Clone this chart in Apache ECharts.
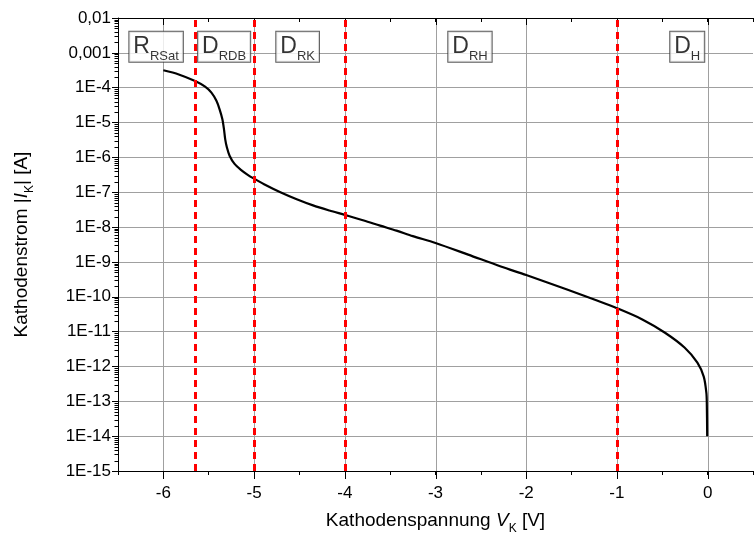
<!DOCTYPE html>
<html>
<head>
<meta charset="utf-8">
<script src="https://cdn.jsdelivr.net/npm/echarts@6/dist/echarts.min.js"></script>
<style>
  html, body { margin: 0; padding: 0; background: #fff; }
  #chart { width: 756px; height: 540px; }
</style>
</head>
<body>
<div id="chart"></div>
<script>
// Cathode characteristic: |I_K| over V_K
const voltage = [-6.0, -5.83, -5.65, -5.54, -5.47, -5.415, -5.38, -5.35, -5.332, -5.318, -5.30,
  -5.27, -5.215, -5.145, -5.07, -5.0, -4.89, -4.71, -4.53, -4.35, -4.17, -4.0,
  -3.79, -3.61, -3.43, -3.25, -3.0, -2.64, -2.28, -2.0, -1.55, -1.22, -1.0,
  -0.72, -0.47, -0.255, -0.113, -0.043, -0.014, -0.009, -0.005];
const current = [3.16e-4, 2.4e-4, 1.55e-4, 1.07e-4, 7.2e-5, 4.2e-5, 2.4e-5, 1.26e-5, 6.5e-6, 3.3e-6, 1.95e-6,
  1.12e-6, 6.5e-7, 4.4e-7, 3.16e-7, 2.45e-7, 1.7e-7, 1.0e-7, 6.3e-8, 4.2e-8, 3.0e-8, 2.24e-8,
  1.55e-8, 1.1e-8, 7.9e-9, 5.5e-9, 3.5e-9, 1.62e-9, 7.4e-10, 4.2e-10, 1.62e-10, 7.8e-11, 4.7e-11,
  2.24e-11, 9.3e-12, 3.5e-12, 1.29e-12, 5.1e-13, 1.74e-13, 8e-14, 1e-14];

// Region boundaries (red dashed) and region names
const boundaryVoltages = [-5.65, -5, -4, -1];
const regionMain = ['R', 'D', 'D', 'D', 'D'];
const regionSub = ['RSat', 'RDB', 'RK', 'RH', 'H'];
const regionVoltages = [-6.08, -5.33, -4.52, -2.62, -0.225];
const regionCurrent = 1.5e-3;

// Axes
const xMin = -6.5, xMax = 0.5;
const yMinExp = -15, yMaxExp = -2;
const xMajorTicks = [-6, -5, -4, -3, -2, -1, 0];
const yTickLabels = ['1E-15', '1E-14', '1E-13', '1E-12', '1E-11', '1E-10', '1E-9', '1E-8',
  '1E-7', '1E-6', '1E-5', '1E-4', '0,001', '0,01'];

const FONT = '"Liberation Sans", Arial, Helvetica, sans-serif';
const GRID = '#a0a0a0';

const curveData = voltage.map((v, i) => [v, current[i]]);
const regionData = regionVoltages.map((v, i) => ({
  value: [v, regionCurrent],
  label: { formatter: '{m|' + regionMain[i] + '}{s|' + regionSub[i] + '}' }
}));

// log-spaced minor ticks for the current axis
const yMinorTicks = [];
for (let e = yMinExp; e < yMaxExp; e++) {
  for (let m = 2; m <= 9; m++) yMinorTicks.push(m * Math.pow(10, e));
}

const crisp = v => Math.round(v) + 0.5;

function drawDecorations(params, api) {
  const yLo = Math.pow(10, yMinExp), yHi = Math.pow(10, yMaxExp);
  const children = [];
  xMajorTicks.forEach(v => {
    const b = api.coord([v, yLo]);
    const t = api.coord([v, yHi]);
    const x = crisp(b[0]);
    children.push({ type: 'line', shape: { x1: x, y1: b[1], x2: x, y2: t[1] },
      style: { stroke: GRID, lineWidth: 1 } });
    children.push({ type: 'line', shape: { x1: x, y1: b[1], x2: x, y2: b[1] + 8 },
      style: { stroke: '#000', lineWidth: 1 } });
    children.push({ type: 'line', shape: { x1: x, y1: t[1], x2: x, y2: t[1] + 7 },
      style: { stroke: '#000', lineWidth: 1 } });
  });
  yMinorTicks.forEach(v => {
    const p = api.coord([xMin, v]);
    const y = crisp(p[1]);
    const x = crisp(p[0]);
    children.push({ type: 'line', shape: { x1: x - 4, y1: y, x2: x, y2: y },
      style: { stroke: '#000', lineWidth: 1 } });
  });
  return { type: 'group', children };
}

const chart = echarts.init(document.getElementById('chart'), null, { renderer: 'canvas' });

const axisNameRich = {
  n: { fontSize: 19, fontFamily: FONT, color: '#000', lineHeight: 20, verticalAlign: 'top' },
  i: { fontSize: 19, fontFamily: FONT, color: '#000', fontStyle: 'italic', lineHeight: 20, verticalAlign: 'top' },
  s: { fontSize: 12, fontFamily: FONT, color: '#000', lineHeight: 12, padding: [16, 0, 0, 0] }
};

chart.setOption({
  animation: false,
  backgroundColor: '#fff',
  textStyle: { fontFamily: FONT },
  grid: { left: 118, right: -8, top: 18, bottom: 69, containLabel: false },
  xAxis: [{
    type: 'value', position: 'bottom', min: xMin, max: xMax, interval: 0.5,
    axisLine: { show: true, onZero: false, lineStyle: { color: '#000', width: 1 } },
    axisTick: { show: true, inside: false, length: 4, lineStyle: { color: '#000' } },
    axisLabel: {
      show: true, margin: 14, color: '#000', fontSize: 17, fontFamily: FONT,
      formatter: v => Number.isInteger(Math.round(v * 1000) / 1000) ? String(Math.round(v)) : ''
    },
    splitLine: { show: false },
    name: '{n|Kathodenspannung }{i|V}{s|K}{n| [V]}',
    nameLocation: 'middle', nameGap: 38,
    nameTextStyle: { rich: axisNameRich }
  }, {
    type: 'value', position: 'top', min: xMin, max: xMax, interval: 0.5,
    axisLine: { show: true, onZero: false, lineStyle: { color: '#000', width: 1 } },
    axisTick: { show: true, inside: true, length: 4, lineStyle: { color: '#000' } },
    axisLabel: { show: false },
    splitLine: { show: false }
  }],
  yAxis: [{
    type: 'log', logBase: 10, min: Math.pow(10, yMinExp), max: Math.pow(10, yMaxExp), interval: 1,
    axisLine: { show: true, onZero: false, lineStyle: { color: '#000', width: 1 } },
    axisTick: { show: true, inside: false, length: 6, lineStyle: { color: '#000', width: 1 } },
    axisLabel: {
      show: true, margin: 7, color: '#000', fontSize: 17, fontFamily: FONT,
      formatter: v => {
        const idx = Math.round(Math.log10(v)) - yMinExp;
        return yTickLabels[idx] || '';
      }
    },
    splitLine: { show: true, lineStyle: { color: GRID, width: 1 } },
    name: '{n|Kathodenstrom |}{i|I}{s|K}{n|| [A]}',
    nameLocation: 'middle', nameGap: 86, nameRotate: 90,
    nameTextStyle: { rich: axisNameRich }
  }],
  series: [{
    type: 'custom',
    name: 'decorations',
    xAxisIndex: 0, yAxisIndex: 0,
    clip: false, silent: true, z: 1,
    data: [[xMin, Math.pow(10, yMinExp)]],
    renderItem: drawDecorations
  }, {
    type: 'line',
    name: 'Kathodenstrom',
    xAxisIndex: 0, yAxisIndex: 0,
    data: curveData,
    showSymbol: false,
    smooth: 0.3,
    lineStyle: { color: '#000', width: 2.2 },
    z: 3,
    markLine: {
      silent: true,
      symbol: ['none', 'none'],
      label: { show: false },
      lineStyle: { color: '#ff0000', width: 3, type: [7, 5] },
      emphasis: { disabled: true },
      data: boundaryVoltages.map(v => ({ xAxis: v }))
    }
  }, {
    type: 'scatter',
    name: 'regions',
    xAxisIndex: 0, yAxisIndex: 0,
    data: regionData,
    symbolSize: 0,
    silent: true,
    z: 6,
    label: {
      show: true,
      position: 'inside',
      backgroundColor: '#fff',
      borderColor: '#333',
      borderWidth: 1,
      padding: [3, 4, 3, 4],
      rich: {
        m: { fontSize: 23, fontFamily: FONT, color: '#000', lineHeight: 24, verticalAlign: 'top' },
        s: { fontSize: 13, fontFamily: FONT, color: '#000', lineHeight: 13, padding: [19, 0, 0, 0] }
      }
    }
  }]
});
</script>
</body>
</html>
